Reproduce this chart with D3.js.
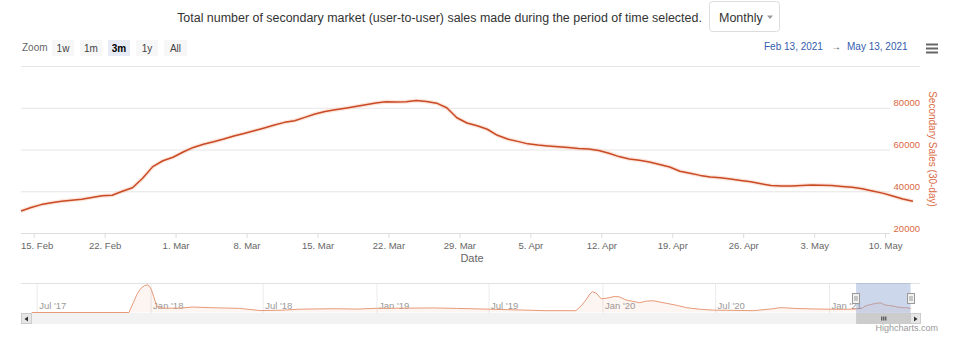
<!DOCTYPE html>
<html>
<head>
<meta charset="utf-8">
<script src="https://cdn.jsdelivr.net/npm/d3@7"></script>
<style>
  body { margin: 0; background: #fff; }
  svg { display: block; font-family: "Liberation Sans", Arial, sans-serif; }
</style>
</head>
<body>
<svg id="chart" width="960" height="338"></svg>
<script>
// ---- data -------------------------------------------------------------
// Daily 30-day secondary sales, one value per day starting at the first date.
const firstDay = "2021-02-13T18:00:00Z";
const salesValues = [
  30500, 32200, 33600, 34500, 35200, 35700, 36200, 37000, 37800, 38100,
  40000, 41700, 46200, 51800, 54600, 56300, 58800, 61000, 62500, 63700,
  65000, 66500, 67700, 69000, 70300, 71700, 73000, 73800, 75400, 77000,
  78200, 79000, 79800, 80600, 81400, 82300, 82900, 82800, 82900, 83500,
  83000, 82200, 80000, 75200, 72700, 71400, 69700, 66800, 65000, 63900,
  62700, 62100, 61700, 61300, 61000, 60500, 60200, 59500, 58200, 56600,
  55500, 54900, 54000, 52800, 51600, 49600, 48600, 47600, 46800, 46500,
  45900, 45200, 44500, 43600, 42800, 42500, 42500, 42700, 43000, 42900,
  42700, 42300, 41900, 41200, 40100, 39100, 37700, 36300, 35200
];

// Earlier history, shown only in the navigator strip.
const historyDates = [
  "2017-06-23", "2017-11-27", "2017-12-04", "2017-12-10", "2017-12-16",
  "2017-12-22", "2017-12-28", "2018-01-02", "2018-01-06", "2018-01-11",
  "2018-01-21", "2018-02-17", "2018-03-10", "2018-04-10", "2018-05-25",
  "2018-06-27", "2018-08-01", "2018-08-30", "2018-10-23", "2018-12-01",
  "2019-01-01", "2019-02-15", "2019-04-02", "2019-05-10", "2019-06-17",
  "2019-08-01", "2019-10-02", "2019-11-19", "2019-11-28", "2019-12-06",
  "2019-12-12", "2019-12-16", "2019-12-22", "2019-12-30", "2020-01-10",
  "2020-01-20", "2020-01-28", "2020-02-08", "2020-03-01", "2020-03-12",
  "2020-03-23", "2020-04-13", "2020-05-01", "2020-05-16", "2020-06-07",
  "2020-06-28", "2020-09-01", "2020-10-01", "2020-10-15", "2020-11-10",
  "2020-12-07", "2021-01-01", "2021-01-25"
];
const historyValues = [
  0, 0, 85000, 160000, 210000,
  235000, 243000, 205000, 140000, 55000,
  38000, 38000, 48000, 42000, 36000,
  17000, 20000, 29000, 33000, 30000,
  37000, 38000, 40000, 36000, 31000,
  25000, 16000, 16000, 60000, 115000,
  165000, 182000, 170000, 120000, 128000,
  140000, 138000, 110000, 86000, 100000,
  103000, 81000, 62000, 42000, 28000,
  21000, 16000, 32000, 43000, 35000,
  31000, 29000, 28000
];

const xTickDates = [
  "2021-02-15", "2021-02-22", "2021-03-01", "2021-03-08", "2021-03-15",
  "2021-03-22", "2021-03-29", "2021-04-05", "2021-04-12", "2021-04-19",
  "2021-04-26", "2021-05-03", "2021-05-10"
];
const xTickLabels = [
  "15. Feb", "22. Feb", "1. Mar", "8. Mar", "15. Mar", "22. Mar", "29. Mar",
  "5. Apr", "12. Apr", "19. Apr", "26. Apr", "3. May", "10. May"
];
const yTickValues = [20000, 40000, 60000, 80000, 100000];
const yTickLabels = ["20000", "40000", "60000", "80000", ""];

const navTickDates = [
  "2017-07-01", "2018-01-01", "2018-07-01", "2019-01-01",
  "2019-07-01", "2020-01-01", "2020-07-01", "2021-01-01"
];
const navTickLabels = ["Jul '17", "Jan '18", "Jul '18", "Jan '19",
                       "Jul '19", "Jan '20", "Jul '20", "Jan '21"];

const rangeButtons = ["1w", "1m", "3m", "1y", "All"];
const selectedRange = "3m";
const periodLabel = "Monthly";
const rangeFrom = "Feb 13, 2021";
const rangeTo = "May 13, 2021";

// ---- derived series ---------------------------------------------------
const DAY = 86400000;
const t0 = new Date(firstDay).getTime();
const sales = salesValues.map((v, i) => ({ date: new Date(t0 + i * DAY), value: v }));
const history = historyDates.map((d, i) => ({ date: new Date(d + "T00:00:00Z"), value: historyValues[i] }));
const navSeries = history.concat(sales);

// ---- layout -----------------------------------------------------------
const svg = d3.select("#chart");
const plot = { left: 21, right: 913, top: 66, bottom: 233 };
const lineColor = "#c94a24";
const axisOrange = "#d9693f";

// ---- header -----------------------------------------------------------
svg.append("text")
  .attr("x", 439.5).attr("y", 22)
  .attr("text-anchor", "middle")
  .attr("font-size", 12.45).attr("fill", "#333")
  .text("Total number of secondary market (user-to-user) sales made during the period of time selected.");

const sel = svg.append("g").attr("transform", "translate(709.5,1.5)");
sel.append("rect").attr("width", 70).attr("height", 30).attr("rx", 3)
  .attr("fill", "#fff").attr("stroke", "#dcdcdc");
sel.append("text").attr("x", 9.5).attr("y", 20).attr("font-size", 12.5)
  .attr("fill", "#333").text(periodLabel);
sel.append("path").attr("d", "M57.5,14 L63.5,14 L60.5,17.5 Z").attr("fill", "#999");

// range selector buttons
svg.append("text").attr("x", 22).attr("y", 51).attr("font-size", 10)
  .attr("fill", "#666").text("Zoom");
const btn = svg.append("g").selectAll("g").data(rangeButtons).join("g")
  .attr("transform", (d, i) => `translate(${52 + i * 28},40)`);
btn.append("rect").attr("width", d => d === "All" ? 23 : 22).attr("height", 16)
  .attr("fill", d => d === selectedRange ? "#e6ebf5" : "#f7f7f7");
btn.append("text").attr("x", d => d === "All" ? 11.5 : 11).attr("y", 11.5)
  .attr("text-anchor", "middle").attr("font-size", 10)
  .attr("font-weight", d => d === selectedRange ? "bold" : "normal")
  .attr("fill", d => d === selectedRange ? "#000" : "#444")
  .text(d => d);

// date range display
const dr = svg.append("g").attr("font-size", 10).attr("fill", "#335cad");
dr.append("text").attr("x", 764).attr("y", 50).text(rangeFrom);
dr.append("text").attr("x", 836).attr("y", 50).attr("text-anchor", "middle").attr("fill", "#444").text("\u2192");
dr.append("text").attr("x", 847).attr("y", 50).text(rangeTo);

// context menu icon
svg.append("g").attr("stroke", "#666").attr("stroke-width", 2)
  .selectAll("line").data([44.5, 48.5, 52.5]).join("line")
  .attr("x1", 926).attr("x2", 938).attr("y1", d => d).attr("y2", d => d);

// ---- main chart -------------------------------------------------------
const x = d3.scaleUtc()
  .domain([sales[0].date, sales[sales.length - 1].date])
  .range([plot.left, plot.right]);
const y = d3.scaleLinear().domain([20000, 100000]).range([plot.bottom, plot.top]);

// grid lines (the top one runs the full width)
const grid = svg.append("g").attr("transform", "translate(890,0)")
  .call(d3.axisLeft(y).tickValues(yTickValues.slice(1, 4)).tickSize(890 - plot.left).tickFormat(""));
grid.select(".domain").remove();
grid.selectAll("line").attr("stroke", "#e6e6e6");
const topGrid = svg.append("g").attr("transform", "translate(920,0)")
  .call(d3.axisLeft(y).tickValues([yTickValues[4]]).tickSize(920 - plot.left).tickFormat(""));
topGrid.select(".domain").remove();
topGrid.selectAll("line").attr("stroke", "#e6e6e6");

// x axis
const xAxis = svg.append("g").attr("transform", `translate(0,${plot.bottom})`)
  .call(d3.axisBottom(x)
    .tickValues(xTickDates.map(d => new Date(d + "T00:00:00Z")))
    .tickFormat((d, i) => xTickLabels[i])
    .tickSize(5).tickPadding(4).tickSizeOuter(0));
xAxis.select(".domain").attr("stroke", "#dcdcdc").attr("d", `M${plot.left},0.5H890`);
xAxis.selectAll(".tick line").attr("stroke", "#dcdcdc");
xAxis.selectAll(".tick text").attr("font-size", 9.5).attr("fill", "#666")
  .attr("font-family", "'Liberation Sans', Arial, sans-serif");
// keep the first label inside the plot area
xAxis.selectAll(".tick text").each(function () {
  const bb = this.getBBox();
  const tx = +this.parentNode.getAttribute("transform").match(/translate\(([-\d.]+)/)[1];
  if (tx + bb.x < plot.left) d3.select(this).attr("x", plot.left - tx - bb.x);
});

svg.append("text").attr("x", 472).attr("y", 262).attr("text-anchor", "middle")
  .attr("font-size", 11).attr("fill", "#666").text("Date");

// y axis labels on the right
const yAxis = svg.append("g").attr("transform", "translate(920,0)")
  .call(d3.axisLeft(y).tickValues(yTickValues.slice(0, 4))
    .tickFormat((d, i) => yTickLabels[i]).tickSize(0).tickPadding(0));
yAxis.select(".domain").remove();
yAxis.selectAll("text").attr("font-size", 9.5).attr("fill", axisOrange)
  .attr("dy", "-0.2em").attr("font-family", "'Liberation Sans', Arial, sans-serif");

svg.append("text")
  .attr("transform", "translate(928.5,149) rotate(90)")
  .attr("text-anchor", "middle").attr("font-size", 10).attr("fill", axisOrange)
  .text("Secondary Sales (30-day)");

// series line with a soft shadow
const line = d3.line().x(d => x(d.date)).y(d => y(d.value));
svg.append("path").datum(sales).attr("d", line)
  .attr("fill", "none").attr("stroke", "#f4a889").attr("stroke-width", 4)
  .attr("stroke-opacity", 0.3).attr("stroke-linejoin", "round");
svg.append("path").datum(sales).attr("d", line)
  .attr("fill", "none").attr("stroke", lineColor).attr("stroke-width", 1.5)
  .attr("stroke-linejoin", "round");

// ---- navigator --------------------------------------------------------
const nav = { left: 21, right: 920, top: 283, bottom: 313 };
const nx = d3.scaleUtc()
  .domain([new Date("2017-07-01T00:00:00Z"), new Date("2021-01-01T00:00:00Z")])
  .range([36.7, 829]);
const ny = d3.scaleLinear().domain([0, 250000]).range([312.5, 284]);

// vertical grid + labels
const navAxis = svg.append("g").attr("transform", `translate(0,${nav.bottom})`)
  .call(d3.axisTop(nx).tickValues(navTickDates.map(d => new Date(d + "T00:00:00Z")))
    .tickFormat((d, i) => navTickLabels[i]).tickSize(nav.bottom - nav.top).tickPadding(0));
navAxis.select(".domain").remove();
navAxis.selectAll("line").attr("stroke", "#ebebeb");
navAxis.selectAll("text").attr("text-anchor", "start").attr("x", 2).attr("y", -4)
  .attr("dy", 0).attr("font-size", 9.5).attr("fill", "#999")
  .attr("font-family", "'Liberation Sans', Arial, sans-serif");

svg.append("line").attr("x1", nav.left).attr("x2", nav.right)
  .attr("y1", nav.top + 0.5).attr("y2", nav.top + 0.5).attr("stroke", "#e2e2e2");

const navArea = d3.area().x(d => nx(d.date)).y0(ny(0)).y1(d => ny(d.value));
const navLine = d3.line().x(d => nx(d.date)).y(d => ny(d.value));
svg.append("path").datum(navSeries).attr("d", navArea).attr("fill", "#e8764a").attr("fill-opacity", 0.07);
svg.append("path").datum(navSeries).attr("d", navLine)
  .attr("fill", "none").attr("stroke", "#e79a78").attr("stroke-width", 1);

// selected window
const selX0 = nx(sales[0].date), selX1 = nx(sales[sales.length - 1].date);
svg.append("rect").attr("x", selX0).attr("y", nav.top)
  .attr("width", selX1 - selX0).attr("height", nav.bottom - nav.top)
  .attr("fill", "rgba(102,133,194,0.33)");
svg.append("g").selectAll("g").data([selX0, selX1]).join("g")
  .attr("transform", d => `translate(${Math.round(d) - 3.5},293.5)`)
  .each(function () {
    const h = d3.select(this);
    h.append("rect").attr("width", 7).attr("height", 10).attr("fill", "#f2f2f2").attr("stroke", "#999");
    h.append("line").attr("x1", 2.5).attr("x2", 2.5).attr("y1", 2.5).attr("y2", 7.5).attr("stroke", "#999");
    h.append("line").attr("x1", 4.5).attr("x2", 4.5).attr("y1", 2.5).attr("y2", 7.5).attr("stroke", "#999");
  });

// scrollbar
const sb = svg.append("g");
sb.append("rect").attr("x", 21).attr("y", 313).attr("width", 900).attr("height", 11).attr("fill", "#f2f2f2");
sb.append("rect").attr("x", selX0).attr("y", 313).attr("width", selX1 - selX0).attr("height", 11).attr("fill", "#cccccc");
[[21.5, "M28,316.5 L28,321.5 L24.5,319 Z"], [910.5, "M914,316.5 L914,321.5 L917.5,319 Z"]].forEach(([bx, arrow]) => {
  sb.append("rect").attr("x", bx).attr("y", 313.5).attr("width", 10).attr("height", 10)
    .attr("fill", "#e6e6e6").attr("stroke", "#cccccc");
  sb.append("path").attr("d", arrow).attr("fill", "#333");
});
const gripX = (selX0 + selX1) / 2;
sb.append("g").attr("stroke", "#333").selectAll("line").data([-2, 0, 2]).join("line")
  .attr("x1", d => gripX + d + 0.5).attr("x2", d => gripX + d + 0.5)
  .attr("y1", 316.5).attr("y2", 320.5);

svg.append("text").attr("x", 938).attr("y", 331).attr("text-anchor", "end")
  .attr("font-size", 9).attr("fill", "#999").text("Highcharts.com");
</script>
</body>
</html>
